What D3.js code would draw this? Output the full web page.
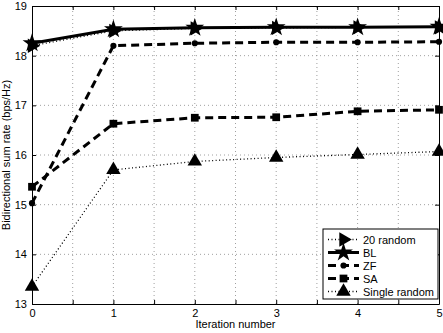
<!DOCTYPE html>
<html>
<head>
<meta charset="utf-8">
<script src="https://cdn.jsdelivr.net/npm/d3@7"></script>
<style>
  body { margin: 0; background: #fff; }
  text { font-family: "Liberation Sans", Arial, sans-serif; }
</style>
</head>
<body>
<div id="chart"></div>
<script>
// iteration index and the values of each curve
var iterations = [0, 1, 2, 3, 4, 5];
var random20 = [18.2, 18.5, 18.55, 18.56, 18.57, 18.57];
var bl = [18.25, 18.53, 18.56, 18.57, 18.57, 18.58];
var zf = [15.03, 18.2, 18.25, 18.27, 18.27, 18.28];
var sa = [15.36, 16.63, 16.75, 16.76, 16.88, 16.91];
var singleRandom = [13.35, 15.7, 15.87, 15.95, 16.01, 16.07];

var xTicks = [0, 1, 2, 3, 4, 5];
var xMinor = [0, 0.5, 1, 1.5, 2, 2.5, 3, 3.5, 4, 4.5, 5];
var yTicks = [13, 14, 15, 16, 17, 18, 19];

var width = 443, height = 333;
var margin = {left: 32, right: 4, top: 6, bottom: 29};

var svg = d3.select("#chart").append("svg")
  .attr("width", width)
  .attr("height", height);

var x = d3.scaleLinear().domain([0, 5]).range([margin.left, width - margin.right]);
var y = d3.scaleLinear().domain([13, 19]).range([height - margin.bottom, margin.top]);

// grid
svg.append("g").selectAll("line.vg")
  .data(xMinor.slice(1, -1))
  .enter().append("line")
  .attr("x1", d => x(d)).attr("x2", d => x(d))
  .attr("y1", y(13)).attr("y2", y(19))
  .attr("stroke", "#888").attr("stroke-width", 0.8)
  .attr("stroke-dasharray", "1,3");

svg.append("g").selectAll("line.hg")
  .data(yTicks.slice(1, -1))
  .enter().append("line")
  .attr("x1", x(0)).attr("x2", x(5))
  .attr("y1", d => y(d)).attr("y2", d => y(d))
  .attr("stroke", "#888").attr("stroke-width", 0.8)
  .attr("stroke-dasharray", "1,3");

// axes, ticks pointing inward
var xAxis = svg.append("g")
  .attr("transform", "translate(0," + y(13) + ")")
  .call(d3.axisBottom(x).tickValues(xMinor).tickSizeInner(-4).tickSizeOuter(0)
    .tickFormat(d => xTicks.indexOf(d) >= 0 ? d : ""));
var xTop = svg.append("g")
  .attr("transform", "translate(0," + y(19) + ")")
  .call(d3.axisTop(x).tickValues(xMinor).tickSizeInner(-4).tickSizeOuter(0).tickFormat(""));
var yAxis = svg.append("g")
  .attr("transform", "translate(" + x(0) + ",0)")
  .call(d3.axisLeft(y).tickValues(yTicks).tickSizeInner(-4).tickSizeOuter(0).tickFormat(d3.format("d")));
var yRight = svg.append("g")
  .attr("transform", "translate(" + x(5) + ",0)")
  .call(d3.axisRight(y).tickValues(yTicks).tickSizeInner(-4).tickSizeOuter(0).tickFormat(""));

[xAxis, xTop, yAxis, yRight].forEach(function(a) {
  a.selectAll("path").attr("stroke", "#000").attr("stroke-width", 1);
  a.selectAll("line").attr("stroke", "#000");
  a.selectAll("text").attr("fill", "#000").style("font-size", "11px")
    .style("font-family", "'Liberation Sans', Arial, sans-serif");
});
xAxis.selectAll("text").attr("y", 5);
yAxis.selectAll("text").attr("x", -5);

svg.append("text")
  .attr("x", (x(0) + x(5)) / 2).attr("y", height - 5)
  .attr("text-anchor", "middle").style("font-size", "11px")
  .text("Iteration number");

svg.append("text")
  .attr("transform", "translate(10," + ((y(13) + y(19)) / 2) + ") rotate(-90)")
  .attr("text-anchor", "middle").style("font-size", "11px")
  .text("Bidirectional sum rate (bps/Hz)");

// series definitions
var series = [
  {name: "20 random", values: random20, width: 1.3, dash: "1,2.5", symbol: "right", size: 90},
  {name: "BL", values: bl, width: 3, dash: null, symbol: d3.symbolStar, size: 110},
  {name: "ZF", values: zf, width: 3, dash: "8,5", symbol: d3.symbolCircle, size: 30},
  {name: "SA", values: sa, width: 3, dash: "8,5", symbol: d3.symbolSquare, size: 60},
  {name: "Single random", values: singleRandom, width: 1.3, dash: "1,2.5", symbol: d3.symbolTriangle, size: 90}
];

var line = d3.line().x((d, i) => x(iterations[i])).y(d => y(d));

function markerPath(s) {
  if (s.symbol === "right") return d3.symbol().type(d3.symbolTriangle).size(s.size)();
  return d3.symbol().type(s.symbol).size(s.size)();
}
function markerRot(s) { return s.symbol === "right" ? " rotate(90)" : ""; }

var plot = svg.append("g");
series.forEach(function(s) {
  plot.append("path")
    .datum(s.values)
    .attr("d", line)
    .attr("fill", "none")
    .attr("stroke", "#000")
    .attr("stroke-width", s.width)
    .attr("stroke-dasharray", s.dash);
  plot.selectAll(null)
    .data(s.values)
    .enter().append("path")
    .attr("d", markerPath(s))
    .attr("transform", (d, i) => "translate(" + x(iterations[i]) + "," + y(d) + ")" + markerRot(s))
    .attr("fill", "#000");
});

// legend
var lg = svg.append("g").attr("transform", "translate(323,229)");
lg.append("rect").attr("width", 115).attr("height", 70)
  .attr("fill", "#fff").attr("stroke", "#000").attr("stroke-width", 1);
series.forEach(function(s, i) {
  var yy = 10.5 + i * 13;
  lg.append("line")
    .attr("x1", 5).attr("x2", 36).attr("y1", yy).attr("y2", yy)
    .attr("stroke", "#000").attr("stroke-width", s.width)
    .attr("stroke-dasharray", s.dash);
  lg.append("path")
    .attr("d", markerPath(s))
    .attr("transform", "translate(20.5," + yy + ")" + markerRot(s))
    .attr("fill", "#000");
  lg.append("text")
    .attr("x", 40).attr("y", yy + 4)
    .style("font-size", "11px")
    .text(s.name);
});
</script>
</body>
</html>
